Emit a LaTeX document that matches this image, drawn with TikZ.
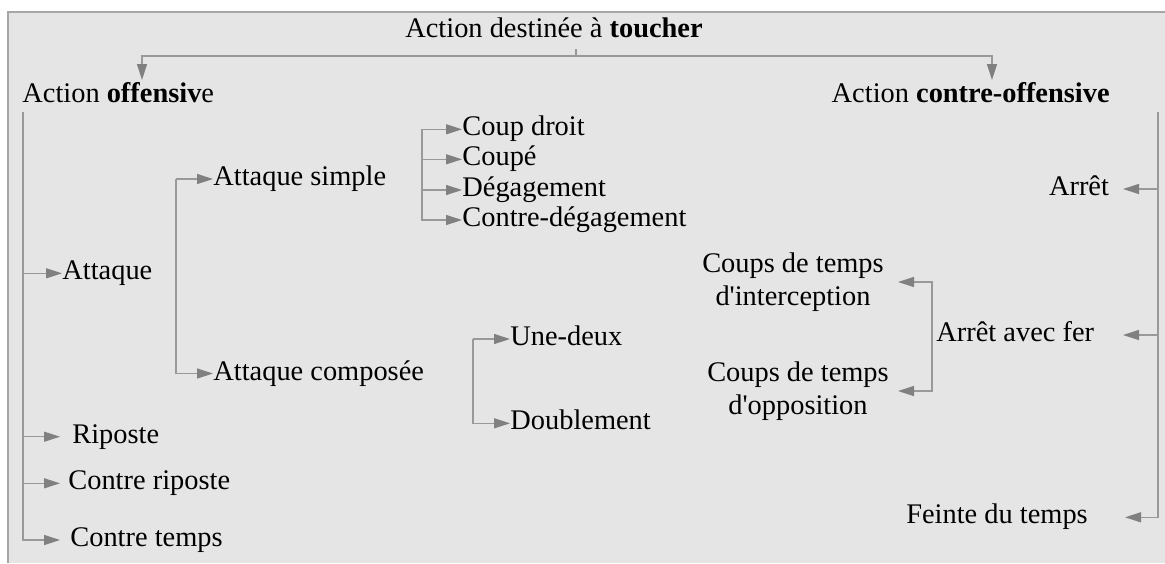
\documentclass[tikz,border=0pt]{standalone}
\usepackage{fontspec}
\setmainfont{Liberation Serif}
\usetikzlibrary{arrows.meta}

\begin{document}
\begin{tikzpicture}[x=0.5pt,y=-0.5pt,
    lbl/.style={inner sep=0pt,font=\fontsize{14.2}{16.5}\selectfont,text height=9.5pt,text depth=3pt},
    lbltwo/.style={inner sep=0pt,font=\fontsize{14.2}{16.5}\selectfont,align=center},
    ln/.style={draw=black!40,line width=0.65pt},
    arr/.style={ln,-{Triangle[length=8pt,width=5pt,color=black!50]}}]
    \useasboundingbox (0,0) rectangle (1165,563);
    \fill[black!10] (8,12) rectangle (1165,563);
    \draw[black!35,line width=0.6pt] (8,563) -- (8,12) -- (1165,12);

    \node[lbl,anchor=base] (dest) at (554,37) {Action destinée à \textbf{toucher}};
    \node[lbl,anchor=base west] (off) at (22,102) {Action \textbf{offensiv}e};
    \node[lbl,anchor=base east] (coff) at (1110,102) {Action \textbf{contre-offensive}};

    \node[lbl,anchor=west] (att) at (62,273.3) {Attaque};
    \node[lbl,anchor=west] (asim) at (213,179) {Attaque simple};
    \node[lbl,anchor=west] (acomp) at (213,373.5) {Attaque composée};
    \node[lbl,anchor=west] (cd) at (462,129.3) {Coup droit};
    \node[lbl,anchor=west] (cp) at (462,159.3) {Coupé};
    \node[lbl,anchor=west] (dg) at (462,190) {Dégagement};
    \node[lbl,anchor=west] (cdg) at (462,220) {Contre-dégagement};
    \node[lbl,anchor=west] (ud) at (510,339) {Une-deux};
    \node[lbl,anchor=west] (db) at (510,423.3) {Doublement};
    \node[lbl,anchor=west] (rip) at (72,436.7) {Riposte};
    \node[lbl,anchor=west] (crip) at (68,483.3) {Contre riposte};
    \node[lbl,anchor=west] (ctps) at (70,540) {Contre temps};

    \node[lbl] (arret) at (1079,189) {Arrêt};
    \node[lbl,anchor=west] (afer) at (936,335) {Arrêt avec fer};
    \node[lbl] (ftps) at (997,517.3) {Feinte du temps};
    \node[lbltwo] (cti) at (793,282) {Coups de temps\\d\textquotesingle interception};
    \node[lbltwo] (cto) at (798,391) {Coups de temps\\d\textquotesingle opposition};

    \coordinate (tick) at (576,49);
    \coordinate (split) at (576,56);
    \coordinate (offtip) at (142,80);
    \coordinate (cofftip) at (992,80);
    \draw[ln] (tick) -- (split);
    \draw[arr] (split) -| (offtip);
    \draw[arr] (split) -| (cofftip);

    \coordinate (ltop) at (23,112);
    \draw[arr] (ltop) |- (att.west);
    \draw[arr] (ltop) |- ([xshift=-6pt]rip.west);
    \draw[arr] (ltop) |- ([xshift=-4pt]crip.west);
    \draw[arr] (ltop) |- ([xshift=-5pt]ctps.west);

    \coordinate (ab) at (176,0);
    \draw[arr] (ab |- asim.west) -- (asim.west);
    \draw[arr] (ab |- asim.west) |- (acomp.west);

    \coordinate (cb) at (422,0);
    \draw[arr] (cb |- cd.west) -- (cd.west);
    \draw[arr] (cb |- cd.west) |- (cp.west);
    \draw[arr] (cb |- cd.west) |- (dg.west);
    \draw[arr] (cb |- cd.west) |- (cdg.west);

    \coordinate (ub) at (473,0);
    \draw[arr] (ub |- ud.west) -- (ud.west);
    \draw[arr] (ub |- ud.west) |- (db.west);

    \coordinate (fb) at (932,0);
    \coordinate (ctip) at (898,0);
    \draw[arr] (fb |- cto.east) |- (cti.east -| ctip);
    \draw[arr] (fb |- cti.east) |- (cto.east -| ctip);

    \coordinate (rtop) at (1158,112);
    \coordinate (rtip) at (1123,0);
    \draw[arr] (rtop) |- (arret.east -| rtip);
    \draw[arr] (rtop) |- (afer.east -| rtip);
    \draw[arr] (rtop) |- ([xshift=1pt]ftps.east -| rtip);
\end{tikzpicture}
\end{document}
